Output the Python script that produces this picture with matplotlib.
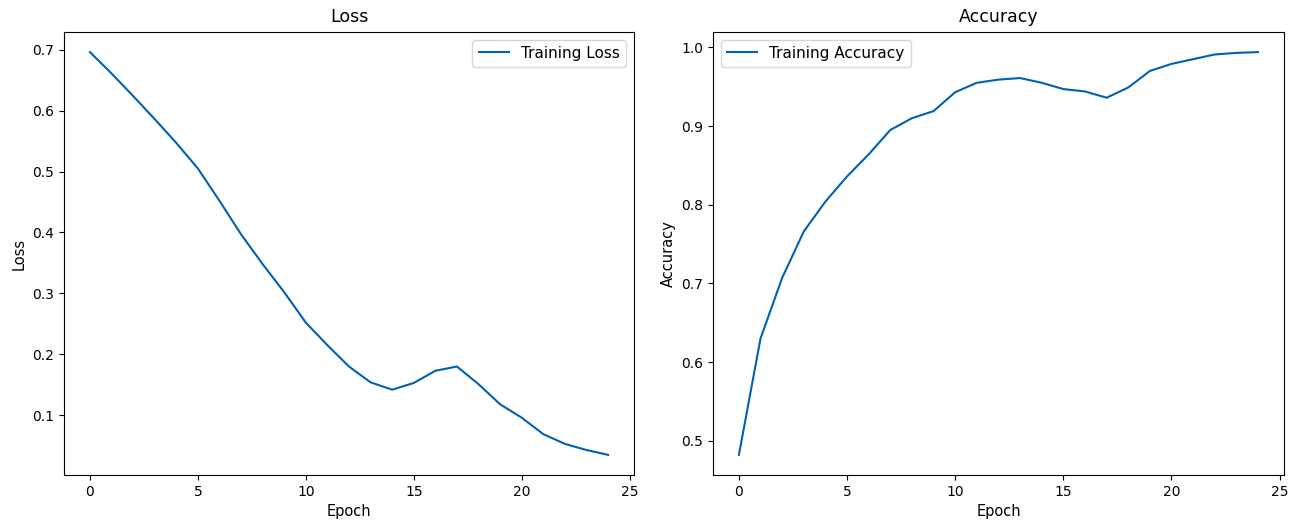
import matplotlib
matplotlib.use('Agg')
import matplotlib.pyplot as plt
import numpy as np

epochs = list(range(25))
train_loss = [0.696, 0.661, 0.624, 0.586, 0.547, 0.505, 0.452, 0.397, 0.348, 0.302,
              0.252, 0.215, 0.180, 0.154, 0.142, 0.153, 0.173, 0.180, 0.151, 0.118,
              0.096, 0.069, 0.053, 0.043, 0.035]
train_acc = [0.482, 0.630, 0.707, 0.766, 0.804, 0.836, 0.864, 0.895, 0.910, 0.919,
             0.943, 0.955, 0.959, 0.961, 0.955, 0.947, 0.944, 0.936, 0.949, 0.970,
             0.979, 0.985, 0.991, 0.993, 0.994]

line_color = '#0061b0'

fig = plt.figure(figsize=(13.01, 5.24), dpi=100)
ax1 = fig.add_axes([0.0492, 0.0935, 0.4381, 0.8455])
ax2 = fig.add_axes([0.548, 0.0935, 0.4389, 0.8455])

ax1.plot(epochs, train_loss, color=line_color, linewidth=1.5, label='Training Loss')
ax1.set_title('Loss', fontsize=12.5, pad=7)
ax1.set_xlabel('Epoch', fontsize=10.5)
ax1.set_ylabel('Loss', fontsize=10.5)
ax1.legend(loc='upper right', fontsize=11)

ax2.plot(epochs, train_acc, color=line_color, linewidth=1.5, label='Training Accuracy')
ax2.set_title('Accuracy', fontsize=12.5, pad=7)
ax2.set_xlabel('Epoch', fontsize=10.5)
ax2.set_ylabel('Accuracy', fontsize=10.5)
ax2.legend(loc='upper left', fontsize=11)

for ax in (ax1, ax2):
    ax.tick_params(labelsize=10)

fig.savefig('out.png', dpi=100)
